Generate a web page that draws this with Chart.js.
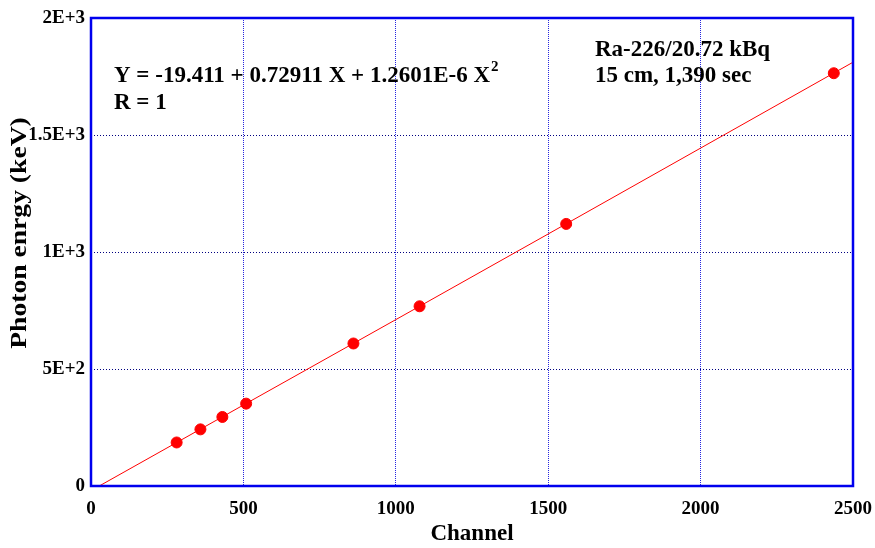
<!DOCTYPE html>
<html>
<head>
<meta charset="utf-8">
<script src="https://cdn.jsdelivr.net/npm/chart.js@4.4.0/dist/chart.umd.min.js"></script>
<style>
  html, body { margin: 0; padding: 0; background: #fff; }
  #wrap { width: 875px; height: 548px; }
</style>
</head>
<body>
<div id="wrap"><canvas id="chart"></canvas></div>
<script>
// measured points (channel vs. photon energy)
const channels = [281, 359, 431, 509, 861, 1078, 1559, 2437]
const energies = [186, 242, 295, 352, 609, 768, 1120, 1764]

// fitted curve
const fitX = [27, 500, 1000, 1500, 2000, 2500]
const fitY = [0, 346, 711, 1077, 1444, 1811]

const xTicks = [0, 500, 1000, 1500, 2000, 2500]
const yTicks = [0, 500, 1000, 1500, 2000]
const yTickLabels = ['0', '5E+2', '1E+3', '1.5E+3', '2E+3']

const serif = '"Liberation Serif", "Times New Roman", serif'

const frame = {
    id: 'frame',
    afterDatasetsDraw(chart) {
        const { ctx, chartArea: a } = chart
        ctx.save()
        ctx.strokeStyle = '#0000ee'
        ctx.lineWidth = 2.5
        ctx.strokeRect(a.left, a.top, a.right - a.left, a.bottom - a.top)
        ctx.restore()
    },
    afterDraw(chart) {
        const ctx = chart.ctx
        ctx.save()
        ctx.fillStyle = '#000'
        ctx.textBaseline = 'alphabetic'
        ctx.font = 'bold 23px ' + serif
        const eq = 'Y = -19.411 + 0.72911 X + 1.2601E-6 X'
        ctx.fillText(eq, 114, 82)
        const w = ctx.measureText(eq).width
        ctx.font = 'bold 15px ' + serif
        ctx.fillText('2', 114 + w + 1, 71)
        ctx.font = 'bold 23px ' + serif
        ctx.fillText('R = 1', 114, 109)
        ctx.fillText('Ra-226/20.72 kBq', 595, 56)
        ctx.fillText('15 cm, 1,390 sec', 595, 82)

        // y axis title, stretched along its length like the original
        ctx.translate(20, 233)
        ctx.rotate(-Math.PI / 2)
        ctx.scale(1.2, 1)
        ctx.textAlign = 'center'
        ctx.textBaseline = 'middle'
        ctx.font = 'bold 23px ' + serif
        ctx.fillText('Photon enrgy (keV)', 0, 0)
        ctx.restore()
    }
}

const ctx = document.getElementById('chart').getContext('2d')
const chart = new Chart(ctx, {
    type: 'scatter',
    data: {
        datasets: [{
            // fit line
            data: fitX.map((x, i) => ({ x: x, y: fitY[i] })),
            showLine: true,
            borderColor: '#ff0000',
            borderWidth: 1,
            pointRadius: 0,
            tension: 0
        }, {
            data: channels.map((x, i) => ({ x: x, y: energies[i] })),
            backgroundColor: '#ff0000',
            borderColor: '#ff0000',
            pointRadius: 5.5,
            pointHoverRadius: 5.5
        }]
    },
    options: {
        responsive: true,
        maintainAspectRatio: false,
        animation: false,
        layout: { padding: { top: 18, right: 22, left: 0, bottom: 0 } },
        plugins: { legend: { display: false }, tooltip: { enabled: false } },
        scales: {
            x: {
                type: 'linear',
                min: 0, max: 2500,
                afterBuildTicks: s => { s.ticks = xTicks.map(v => ({ value: v })) },
                afterFit: s => { s.height = 62; s.paddingLeft = 0; s.paddingRight = 0 },
                ticks: {
                    color: '#000',
                    padding: 12,
                    maxRotation: 0,
                    font: { family: serif, size: 19, weight: 'bold' },
                    callback: v => String(v)
                },
                grid: { color: '#2626e0', lineWidth: 1, drawTicks: false },
                border: { display: false, dash: [1, 1] },
                title: {
                    display: true, text: 'Channel', color: '#000',
                    font: { family: serif, size: 23, weight: 'bold' },
                    padding: { top: 0, bottom: 0 }
                }
            },
            y: {
                type: 'linear',
                min: 0, max: 2000,
                afterBuildTicks: s => { s.ticks = yTicks.map(v => ({ value: v })) },
                afterFit: s => { s.width = 91; s.paddingTop = 0; s.paddingBottom = 0 },
                ticks: {
                    color: '#000',
                    padding: 6,
                    font: { family: serif, size: 19, weight: 'bold' },
                    callback: v => yTickLabels[yTicks.indexOf(v)]
                },
                grid: { color: '#000080', lineWidth: 1, drawTicks: false },
                border: { display: false, dash: [1, 2] },
                title: { display: false }
            }
        }
    },
    plugins: [frame]
})
</script>
</body>
</html>
